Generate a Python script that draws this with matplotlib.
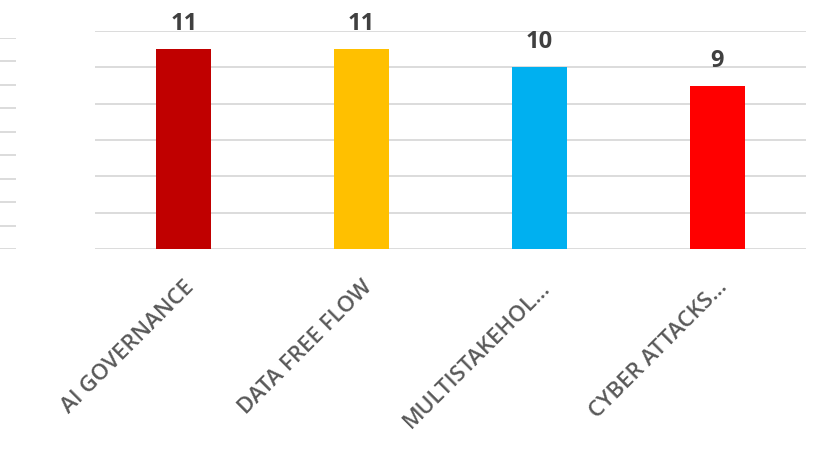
import matplotlib
matplotlib.use("Agg")
import matplotlib.pyplot as plt

categories = ["AI GOVERNANCE", "DATA FREE FLOW", "MULTISTAKEHOL…", "CYBER ATTACKS…"]
values = [11, 11, 10, 9]
colors = ["#C00000", "#FFC000", "#00B0F0", "#FF0000"]

W, H = 820, 456
fig = plt.figure(figsize=(W/100, H/100), dpi=100)
fig.patch.set_facecolor("white")

# partial gridlines of a neighbouring chart at the left edge
ax0 = fig.add_axes([0/W, (H-250)/H, 16/W, (250-39)/H])
ax0.set_ylim(0, 9)
ax0.set_xlim(0, 1)
ax0.set_yticks(range(0, 10))
ax0.grid(axis="y", color="#D9D9D9", linewidth=1.3)
ax0.set_axisbelow(True)
ax0.tick_params(left=False, bottom=False, labelleft=False, labelbottom=False)
for s in ax0.spines.values():
    s.set_visible(False)

ax = fig.add_axes([95/W, (H-250)/H, (806-95)/W, (250-32)/H])
x = range(len(categories))
bars = ax.bar(x, values, width=0.31, color=colors, zorder=3)
ax.set_xlim(-0.5, len(categories)-0.5)
ax.set_ylim(0, 12)
ax.set_yticks(range(0, 13, 2))
ax.grid(axis="y", color="#D9D9D9", linewidth=1.3, zorder=0)
ax.set_axisbelow(True)
for s in ax.spines.values():
    s.set_visible(False)
ax.tick_params(left=False, bottom=False, labelleft=False)
ax.set_xticks(list(x))
ax.set_xticklabels(categories, rotation=45, ha="right", rotation_mode="anchor",
                   fontsize=16, color="#595959", family="Open Sans", fontweight="semibold")
ax.tick_params(axis="x", pad=16)

for b, v in zip(bars, values):
    ax.annotate(str(v), (b.get_x()+b.get_width()/2, v), xytext=(0, 10),
                textcoords="offset points", ha="center", va="bottom",
                fontsize=17, fontweight="bold", color="#404040", family="Open Sans")

fig.savefig("out.png", dpi=100)
